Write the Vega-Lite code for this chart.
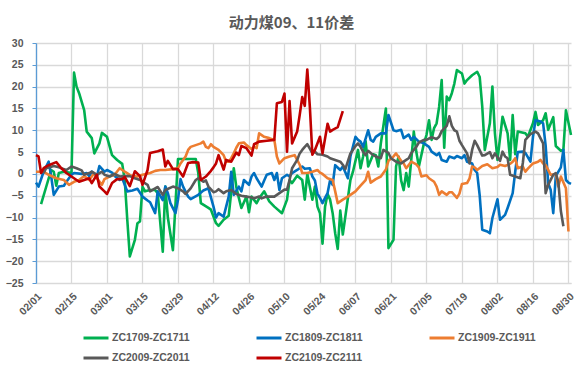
{
"$schema": "https://vega.github.io/schema/vega-lite/v6.json",
"width": 535, "height": 240,
"autosize": {"type": "none"},
"padding": {"left": 36, "top": 43, "right": 7, "bottom": 88},
"background": "white",
"config": {"view": {"stroke": null}},
"title": {"text": "动力煤09、11价差", "fontSize": 15, "font": "Noto Sans CJK SC", "fontWeight": "bold", "color": "#595959", "anchor": "middle", "offset": 7, "dx": -12},
"datasets": {
"ZC1709-ZC1711": [
{"d":"2021-02-03","v":-6.9},{"d":"2021-02-05","v":-3},{"d":"2021-02-07","v":0.9},{"d":"2021-02-08","v":0.5},{"d":"2021-02-09","v":-2.7},{"d":"2021-02-10","v":0.2},{"d":"2021-02-12","v":0.5},{"d":"2021-02-14","v":0.3},{"d":"2021-02-15","v":0.2},{"d":"2021-02-16","v":23.2},{"d":"2021-02-17","v":20},{"d":"2021-02-18","v":18.5},{"d":"2021-02-20","v":14.6},{"d":"2021-02-21","v":9.7},{"d":"2021-02-23","v":8.2},{"d":"2021-02-24","v":4.7},{"d":"2021-02-26","v":7},{"d":"2021-02-27","v":9.4},{"d":"2021-03-01","v":8.5},{"d":"2021-03-03","v":4.3},{"d":"2021-03-05","v":3.2},{"d":"2021-03-07","v":2.3},{"d":"2021-03-08","v":-1.4},{"d":"2021-03-09","v":-10.5},{"d":"2021-03-10","v":-18.9},{"d":"2021-03-12","v":-15.1},{"d":"2021-03-13","v":-11.3},{"d":"2021-03-14","v":-10.9},{"d":"2021-03-15","v":-2.9},{"d":"2021-03-16","v":-4},{"d":"2021-03-18","v":-3.7},{"d":"2021-03-20","v":-3.7},{"d":"2021-03-21","v":-4.4},{"d":"2021-03-23","v":-17.8},{"d":"2021-03-24","v":-2.9},{"d":"2021-03-25","v":-10},{"d":"2021-03-27","v":-17.5},{"d":"2021-03-29","v":3.4},{"d":"2021-04-01","v":3.4},{"d":"2021-04-05","v":3.4},{"d":"2021-04-06","v":0.2},{"d":"2021-04-07","v":-6.7},{"d":"2021-04-10","v":-7.8},{"d":"2021-04-11","v":-8.2},{"d":"2021-04-13","v":-11.3},{"d":"2021-04-14","v":-11.9},{"d":"2021-04-16","v":-10.5},{"d":"2021-04-18","v":-9.6},{"d":"2021-04-20","v":1.3},{"d":"2021-04-21","v":-3},{"d":"2021-04-22","v":-5.5},{"d":"2021-04-23","v":-7.8},{"d":"2021-04-25","v":-5.2},{"d":"2021-04-26","v":-8.8},{"d":"2021-04-27","v":-5.2},{"d":"2021-04-29","v":-6.7},{"d":"2021-04-30","v":-5.6},{"d":"2021-05-02","v":-4},{"d":"2021-05-04","v":-6.3},{"d":"2021-05-06","v":-7.5},{"d":"2021-05-09","v":-9},{"d":"2021-05-11","v":-5.9},{"d":"2021-05-12","v":-1.4},{"d":"2021-05-13","v":-2.1},{"d":"2021-05-15","v":-0.4},{"d":"2021-05-17","v":-1.4},{"d":"2021-05-18","v":-5.9},{"d":"2021-05-19","v":0},{"d":"2021-05-21","v":-5.9},{"d":"2021-05-22","v":-2.9},{"d":"2021-05-23","v":-7.5},{"d":"2021-05-24","v":-9},{"d":"2021-05-25","v":-16},{"d":"2021-05-26","v":-7.5},{"d":"2021-05-27","v":-4.6},{"d":"2021-05-28","v":-5.9},{"d":"2021-05-29","v":-9},{"d":"2021-05-30","v":-13.6},{"d":"2021-05-31","v":-17.2},{"d":"2021-06-01","v":-8.4},{"d":"2021-06-02","v":-13.9},{"d":"2021-06-03","v":-9.8},{"d":"2021-06-05","v":-1.4},{"d":"2021-06-06","v":0.5},{"d":"2021-06-08","v":5.5},{"d":"2021-06-09","v":1.3},{"d":"2021-06-10","v":4},{"d":"2021-06-11","v":7.5},{"d":"2021-06-12","v":1.7},{"d":"2021-06-14","v":4.5},{"d":"2021-06-15","v":4.3},{"d":"2021-06-16","v":1.7},{"d":"2021-06-17","v":7},{"d":"2021-06-19","v":15},{"d":"2021-06-20","v":-17},{"d":"2021-06-22","v":-15.1},{"d":"2021-06-23","v":1.7},{"d":"2021-06-24","v":4},{"d":"2021-06-25","v":-1.5},{"d":"2021-06-26","v":-3.7},{"d":"2021-06-27","v":0.2},{"d":"2021-06-28","v":-2.9},{"d":"2021-06-29","v":3.2},{"d":"2021-06-30","v":9.7},{"d":"2021-07-01","v":5},{"d":"2021-07-02","v":1.7},{"d":"2021-07-04","v":7},{"d":"2021-07-05","v":8.9},{"d":"2021-07-06","v":12.3},{"d":"2021-07-07","v":7.8},{"d":"2021-07-08","v":10.5},{"d":"2021-07-09","v":11.6},{"d":"2021-07-10","v":15.4},{"d":"2021-07-11","v":21.5},{"d":"2021-07-12","v":6},{"d":"2021-07-13","v":17.7},{"d":"2021-07-14","v":16.9},{"d":"2021-07-15","v":18.5},{"d":"2021-07-16","v":20.7},{"d":"2021-07-17","v":23.8},{"d":"2021-07-19","v":23},{"d":"2021-07-20","v":20.7},{"d":"2021-07-21","v":21.5},{"d":"2021-07-23","v":22.6},{"d":"2021-07-25","v":23.4},{"d":"2021-07-26","v":22.2},{"d":"2021-07-27","v":15.4},{"d":"2021-07-28","v":5.5},{"d":"2021-07-30","v":11.6},{"d":"2021-07-31","v":20},{"d":"2021-08-01","v":9.3},{"d":"2021-08-02","v":3.2},{"d":"2021-08-04","v":13.1},{"d":"2021-08-06","v":9.3},{"d":"2021-08-07","v":3.2},{"d":"2021-08-08","v":13.5},{"d":"2021-08-09","v":4.5},{"d":"2021-08-10","v":9.7},{"d":"2021-08-13","v":9.3},{"d":"2021-08-14","v":8.5},{"d":"2021-08-16","v":11.6},{"d":"2021-08-17","v":14.2},{"d":"2021-08-18","v":11.2},{"d":"2021-08-20","v":12.3},{"d":"2021-08-21","v":13.9},{"d":"2021-08-22","v":10.1},{"d":"2021-08-24","v":13},{"d":"2021-08-25","v":6.4},{"d":"2021-08-27","v":5.3},{"d":"2021-08-28","v":5.5},{"d":"2021-08-29","v":14.6},{"d":"2021-08-31","v":8.9}
],
"ZC1809-ZC1811": [
{"d":"2021-02-01","v":-2},{"d":"2021-02-02","v":-2.9},{"d":"2021-02-04","v":0.5},{"d":"2021-02-06","v":2.8},{"d":"2021-02-07","v":-0.6},{"d":"2021-02-08","v":-4.8},{"d":"2021-02-10","v":-2.9},{"d":"2021-02-12","v":-2.7},{"d":"2021-02-13","v":-1.8},{"d":"2021-02-15","v":-0.2},{"d":"2021-02-16","v":0.2},{"d":"2021-02-19","v":0},{"d":"2021-02-21","v":0.2},{"d":"2021-02-22","v":-0.5},{"d":"2021-02-23","v":0.5},{"d":"2021-02-25","v":-0.6},{"d":"2021-02-26","v":1.8},{"d":"2021-02-28","v":0.5},{"d":"2021-03-01","v":0.9},{"d":"2021-03-03","v":0.3},{"d":"2021-03-04","v":-0.5},{"d":"2021-03-06","v":-1.4},{"d":"2021-03-07","v":-1},{"d":"2021-03-09","v":-4},{"d":"2021-03-11","v":-3.8},{"d":"2021-03-13","v":-3.4},{"d":"2021-03-15","v":-5.2},{"d":"2021-03-17","v":-6.1},{"d":"2021-03-18","v":-6.5},{"d":"2021-03-20","v":-9},{"d":"2021-03-21","v":-4},{"d":"2021-03-23","v":-6},{"d":"2021-03-24","v":-2.9},{"d":"2021-03-25","v":-4.4},{"d":"2021-03-26","v":-6.7},{"d":"2021-03-28","v":-9},{"d":"2021-03-29","v":-5.9},{"d":"2021-03-30","v":-1.2},{"d":"2021-03-31","v":-2.9},{"d":"2021-04-02","v":-5.2},{"d":"2021-04-03","v":-5.8},{"d":"2021-04-06","v":-4.8},{"d":"2021-04-08","v":-3.8},{"d":"2021-04-10","v":-3.3},{"d":"2021-04-12","v":-7.5},{"d":"2021-04-13","v":-10},{"d":"2021-04-14","v":-9},{"d":"2021-04-16","v":-9.8},{"d":"2021-04-18","v":-5.2},{"d":"2021-04-19","v":0.5},{"d":"2021-04-20","v":-4.8},{"d":"2021-04-22","v":-2.9},{"d":"2021-04-23","v":-4},{"d":"2021-04-24","v":-1.4},{"d":"2021-04-26","v":-2.5},{"d":"2021-04-27","v":-0.6},{"d":"2021-04-28","v":0.2},{"d":"2021-04-29","v":-1},{"d":"2021-05-01","v":-2.9},{"d":"2021-05-02","v":-1.5},{"d":"2021-05-03","v":-0.2},{"d":"2021-05-05","v":0.2},{"d":"2021-05-06","v":-1.4},{"d":"2021-05-07","v":0.2},{"d":"2021-05-08","v":-3.7},{"d":"2021-05-09","v":-1},{"d":"2021-05-11","v":-0.2},{"d":"2021-05-12","v":-0.6},{"d":"2021-05-13","v":0.2},{"d":"2021-05-15","v":0.9},{"d":"2021-05-17","v":1.7},{"d":"2021-05-18","v":1.2},{"d":"2021-05-20","v":1.3},{"d":"2021-05-21","v":-0.6},{"d":"2021-05-22","v":-1.5},{"d":"2021-05-23","v":-4.5},{"d":"2021-05-24","v":-5.5},{"d":"2021-05-25","v":-6.7},{"d":"2021-05-26","v":-5.5},{"d":"2021-05-27","v":-4.4},{"d":"2021-05-28","v":-1.4},{"d":"2021-05-29","v":-2.5},{"d":"2021-05-30","v":2},{"d":"2021-06-01","v":0.9},{"d":"2021-06-02","v":1.7},{"d":"2021-06-04","v":-1},{"d":"2021-06-05","v":4},{"d":"2021-06-07","v":8.5},{"d":"2021-06-08","v":7.8},{"d":"2021-06-09","v":7.4},{"d":"2021-06-10","v":6.2},{"d":"2021-06-12","v":10},{"d":"2021-06-13","v":7.8},{"d":"2021-06-14","v":7.4},{"d":"2021-06-15","v":8.5},{"d":"2021-06-17","v":9.3},{"d":"2021-06-19","v":9.3},{"d":"2021-06-20","v":13.5},{"d":"2021-06-22","v":10},{"d":"2021-06-23","v":9.8},{"d":"2021-06-25","v":10.1},{"d":"2021-06-26","v":8.2},{"d":"2021-06-28","v":9},{"d":"2021-06-29","v":7.8},{"d":"2021-06-30","v":8.5},{"d":"2021-07-02","v":7.4},{"d":"2021-07-04","v":7},{"d":"2021-07-06","v":6.2},{"d":"2021-07-07","v":5.1},{"d":"2021-07-09","v":4.3},{"d":"2021-07-10","v":4.8},{"d":"2021-07-11","v":3.2},{"d":"2021-07-13","v":2.8},{"d":"2021-07-14","v":4},{"d":"2021-07-16","v":3.6},{"d":"2021-07-17","v":4.1},{"d":"2021-07-19","v":3.6},{"d":"2021-07-20","v":4.3},{"d":"2021-07-21","v":2.8},{"d":"2021-07-23","v":2.4},{"d":"2021-07-24","v":0.9},{"d":"2021-07-25","v":0.2},{"d":"2021-07-26","v":-5},{"d":"2021-07-27","v":-12.8},{"d":"2021-07-29","v":-13.2},{"d":"2021-07-30","v":-13.6},{"d":"2021-07-31","v":-10.1},{"d":"2021-08-02","v":-5.8},{"d":"2021-08-03","v":-10.5},{"d":"2021-08-05","v":-9.4},{"d":"2021-08-06","v":-7.8},{"d":"2021-08-08","v":-4.4},{"d":"2021-08-09","v":0.5},{"d":"2021-08-10","v":5},{"d":"2021-08-12","v":5.1},{"d":"2021-08-13","v":4.8},{"d":"2021-08-15","v":2.8},{"d":"2021-08-16","v":8.5},{"d":"2021-08-17","v":12.3},{"d":"2021-08-19","v":12},{"d":"2021-08-20","v":11.6},{"d":"2021-08-21","v":6.5},{"d":"2021-08-22","v":-2.1},{"d":"2021-08-23","v":-3.7},{"d":"2021-08-24","v":-9},{"d":"2021-08-25","v":-0.5},{"d":"2021-08-27","v":1.5},{"d":"2021-08-28","v":5.5},{"d":"2021-08-29","v":-1.4},{"d":"2021-08-30","v":-2},{"d":"2021-08-31","v":-2.3}
],
"ZC1909-ZC1911": [
{"d":"2021-02-01","v":0.5},{"d":"2021-02-04","v":0.5},{"d":"2021-02-06","v":-0.2},{"d":"2021-02-09","v":-1},{"d":"2021-02-12","v":-1.4},{"d":"2021-02-14","v":-2.5},{"d":"2021-02-16","v":-1.8},{"d":"2021-02-18","v":-1.4},{"d":"2021-02-20","v":-0.5},{"d":"2021-02-22","v":-1.4},{"d":"2021-02-24","v":0.2},{"d":"2021-02-25","v":-1},{"d":"2021-02-27","v":-2.5},{"d":"2021-02-28","v":-1.2},{"d":"2021-03-02","v":-0.6},{"d":"2021-03-04","v":-0.2},{"d":"2021-03-06","v":1.3},{"d":"2021-03-08","v":0.5},{"d":"2021-03-10","v":-0.2},{"d":"2021-03-11","v":-0.5},{"d":"2021-03-13","v":-0.6},{"d":"2021-03-15","v":-0.2},{"d":"2021-03-18","v":0.2},{"d":"2021-03-20","v":0.7},{"d":"2021-03-22","v":0.9},{"d":"2021-03-24","v":0.9},{"d":"2021-03-27","v":1.1},{"d":"2021-03-29","v":1.3},{"d":"2021-03-30","v":2.4},{"d":"2021-04-01","v":4},{"d":"2021-04-02","v":5.5},{"d":"2021-04-03","v":6.2},{"d":"2021-04-05","v":6.6},{"d":"2021-04-07","v":7},{"d":"2021-04-08","v":7.4},{"d":"2021-04-09","v":6.2},{"d":"2021-04-10","v":5.9},{"d":"2021-04-11","v":6.8},{"d":"2021-04-12","v":6.2},{"d":"2021-04-14","v":5.5},{"d":"2021-04-16","v":4.3},{"d":"2021-04-17","v":2.8},{"d":"2021-04-18","v":2.8},{"d":"2021-04-19","v":3.6},{"d":"2021-04-20","v":4.7},{"d":"2021-04-21","v":6},{"d":"2021-04-22","v":7},{"d":"2021-04-24","v":7.2},{"d":"2021-04-25","v":6.6},{"d":"2021-04-27","v":5.7},{"d":"2021-04-28","v":6.2},{"d":"2021-04-29","v":5.9},{"d":"2021-04-30","v":9.3},{"d":"2021-05-02","v":8.5},{"d":"2021-05-04","v":8.2},{"d":"2021-05-06","v":7.8},{"d":"2021-05-07","v":4},{"d":"2021-05-08","v":2.4},{"d":"2021-05-10","v":3.6},{"d":"2021-05-12","v":4},{"d":"2021-05-14","v":4.3},{"d":"2021-05-15","v":3.2},{"d":"2021-05-16","v":2.1},{"d":"2021-05-17","v":0.2},{"d":"2021-05-19","v":0.2},{"d":"2021-05-21","v":0.5},{"d":"2021-05-23","v":0.9},{"d":"2021-05-24","v":0.3},{"d":"2021-05-25","v":0},{"d":"2021-05-27","v":-1},{"d":"2021-05-29","v":-1.4},{"d":"2021-05-30","v":-4},{"d":"2021-05-31","v":-6.7},{"d":"2021-06-02","v":-5.9},{"d":"2021-06-04","v":-5.2},{"d":"2021-06-05","v":-4.8},{"d":"2021-06-07","v":-4},{"d":"2021-06-09","v":-2.7},{"d":"2021-06-11","v":-1.4},{"d":"2021-06-12","v":0.5},{"d":"2021-06-13","v":-2},{"d":"2021-06-15","v":-1.2},{"d":"2021-06-17","v":-0.6},{"d":"2021-06-19","v":1},{"d":"2021-06-20","v":3},{"d":"2021-06-22","v":4},{"d":"2021-06-23","v":4.7},{"d":"2021-06-25","v":3},{"d":"2021-06-26","v":2.4},{"d":"2021-06-27","v":1.3},{"d":"2021-06-29","v":2.8},{"d":"2021-07-01","v":2.2},{"d":"2021-07-02","v":1.5},{"d":"2021-07-03","v":-0.6},{"d":"2021-07-05","v":-0.3},{"d":"2021-07-06","v":-1},{"d":"2021-07-08","v":-1.8},{"d":"2021-07-09","v":-2.9},{"d":"2021-07-10","v":-4.8},{"d":"2021-07-11","v":-4},{"d":"2021-07-13","v":-4.8},{"d":"2021-07-14","v":-4.2},{"d":"2021-07-15","v":-4.2},{"d":"2021-07-17","v":-5.5},{"d":"2021-07-18","v":-4.5},{"d":"2021-07-19","v":-2.3},{"d":"2021-07-21","v":-2.1},{"d":"2021-07-22","v":-1},{"d":"2021-07-23","v":1.7},{"d":"2021-07-24","v":1.5},{"d":"2021-07-25","v":0.9},{"d":"2021-07-27","v":1.8},{"d":"2021-07-29","v":2.2},{"d":"2021-07-31","v":1.3},{"d":"2021-08-02","v":1.6},{"d":"2021-08-03","v":2.1},{"d":"2021-08-05","v":1.8},{"d":"2021-08-07","v":2.3},{"d":"2021-08-08","v":2.8},{"d":"2021-08-09","v":3.6},{"d":"2021-08-10","v":1.3},{"d":"2021-08-12","v":1.7},{"d":"2021-08-13","v":0.5},{"d":"2021-08-14","v":1.2},{"d":"2021-08-16","v":2.4},{"d":"2021-08-18","v":2.8},{"d":"2021-08-19","v":3.2},{"d":"2021-08-20","v":2.4},{"d":"2021-08-21","v":2},{"d":"2021-08-22","v":0.9},{"d":"2021-08-23","v":-0.2},{"d":"2021-08-25","v":0},{"d":"2021-08-26","v":-2.9},{"d":"2021-08-27","v":-0.6},{"d":"2021-08-29","v":-3.3},{"d":"2021-08-30","v":-13.2}
],
"ZC2009-ZC2011": [
{"d":"2021-02-04","v":0.2},{"d":"2021-02-05","v":1.3},{"d":"2021-02-08","v":1.8},{"d":"2021-02-10","v":1.5},{"d":"2021-02-13","v":0.9},{"d":"2021-02-15","v":1.7},{"d":"2021-02-17","v":1.3},{"d":"2021-02-19","v":0.8},{"d":"2021-02-20","v":-0.2},{"d":"2021-02-22","v":0.2},{"d":"2021-02-23","v":0.5},{"d":"2021-02-25","v":-0.2},{"d":"2021-02-27","v":0.5},{"d":"2021-02-28","v":-0.2},{"d":"2021-03-02","v":-0.6},{"d":"2021-03-04","v":0},{"d":"2021-03-06","v":-0.6},{"d":"2021-03-08","v":-0.5},{"d":"2021-03-10","v":-0.5},{"d":"2021-03-12","v":-1},{"d":"2021-03-14","v":-1.4},{"d":"2021-03-17","v":-2.5},{"d":"2021-03-18","v":-4},{"d":"2021-03-20","v":-3.3},{"d":"2021-03-21","v":-3},{"d":"2021-03-23","v":-4.8},{"d":"2021-03-24","v":-3.7},{"d":"2021-03-27","v":-2.9},{"d":"2021-03-29","v":-3.3},{"d":"2021-03-31","v":-4},{"d":"2021-04-01","v":-4.6},{"d":"2021-04-03","v":-3.3},{"d":"2021-04-05","v":-1.4},{"d":"2021-04-06","v":-1},{"d":"2021-04-08","v":-1.8},{"d":"2021-04-09","v":-1.5},{"d":"2021-04-10","v":-2.9},{"d":"2021-04-12","v":-4.2},{"d":"2021-04-13","v":-4},{"d":"2021-04-14","v":-3.5},{"d":"2021-04-16","v":-4.4},{"d":"2021-04-17","v":-4},{"d":"2021-04-19","v":-3.7},{"d":"2021-04-21","v":-4.6},{"d":"2021-04-23","v":-5},{"d":"2021-04-25","v":-5.2},{"d":"2021-04-27","v":-5.4},{"d":"2021-04-28","v":-5.6},{"d":"2021-04-30","v":-5.2},{"d":"2021-05-01","v":-5.6},{"d":"2021-05-03","v":-5.2},{"d":"2021-05-05","v":-5.2},{"d":"2021-05-06","v":-5.2},{"d":"2021-05-08","v":-4.4},{"d":"2021-05-09","v":-4},{"d":"2021-05-10","v":-3.6},{"d":"2021-05-11","v":-3.6},{"d":"2021-05-12","v":-1.4},{"d":"2021-05-13","v":1.3},{"d":"2021-05-15","v":3.2},{"d":"2021-05-16","v":4.7},{"d":"2021-05-17","v":5.5},{"d":"2021-05-18","v":6.2},{"d":"2021-05-19","v":6.8},{"d":"2021-05-20","v":5.8},{"d":"2021-05-21","v":4.7},{"d":"2021-05-22","v":5.1},{"d":"2021-05-23","v":4.5},{"d":"2021-05-25","v":4.4},{"d":"2021-05-27","v":4},{"d":"2021-05-28","v":3.6},{"d":"2021-05-30","v":3.2},{"d":"2021-06-01","v":2.8},{"d":"2021-06-02","v":2.1},{"d":"2021-06-03","v":1.1},{"d":"2021-06-05","v":4.7},{"d":"2021-06-06","v":5.5},{"d":"2021-06-07","v":6.4},{"d":"2021-06-08","v":7},{"d":"2021-06-09","v":6.2},{"d":"2021-06-10","v":5.1},{"d":"2021-06-11","v":4.3},{"d":"2021-06-12","v":5.3},{"d":"2021-06-14","v":4.3},{"d":"2021-06-15","v":4},{"d":"2021-06-17","v":3.6},{"d":"2021-06-18","v":5.5},{"d":"2021-06-20","v":4.8},{"d":"2021-06-21","v":3.6},{"d":"2021-06-23","v":2.8},{"d":"2021-06-25","v":2.4},{"d":"2021-06-27","v":3.2},{"d":"2021-06-28","v":3.6},{"d":"2021-06-29","v":4.8},{"d":"2021-06-30","v":5.5},{"d":"2021-07-01","v":6.2},{"d":"2021-07-02","v":7.2},{"d":"2021-07-04","v":7.8},{"d":"2021-07-05","v":7.8},{"d":"2021-07-07","v":8.4},{"d":"2021-07-09","v":8},{"d":"2021-07-10","v":8.5},{"d":"2021-07-11","v":9.8},{"d":"2021-07-13","v":11},{"d":"2021-07-14","v":13.2},{"d":"2021-07-15","v":11},{"d":"2021-07-16","v":10},{"d":"2021-07-17","v":9.7},{"d":"2021-07-18","v":7.6},{"d":"2021-07-19","v":6.6},{"d":"2021-07-21","v":4.7},{"d":"2021-07-22","v":2.4},{"d":"2021-07-23","v":5.5},{"d":"2021-07-24","v":7.6},{"d":"2021-07-25","v":6.6},{"d":"2021-07-27","v":4.2},{"d":"2021-07-28","v":4.3},{"d":"2021-07-30","v":5},{"d":"2021-07-31","v":3.6},{"d":"2021-08-01","v":4.7},{"d":"2021-08-03","v":3},{"d":"2021-08-04","v":5.1},{"d":"2021-08-05","v":4},{"d":"2021-08-06","v":3.6},{"d":"2021-08-07","v":-0.2},{"d":"2021-08-09","v":-0.6},{"d":"2021-08-11","v":-1},{"d":"2021-08-12","v":2.5},{"d":"2021-08-13","v":7.8},{"d":"2021-08-15","v":9.1},{"d":"2021-08-17","v":9.7},{"d":"2021-08-18","v":9.3},{"d":"2021-08-20","v":7},{"d":"2021-08-21","v":-4.4},{"d":"2021-08-22","v":-2.5},{"d":"2021-08-24","v":-0.2},{"d":"2021-08-25","v":0.2},{"d":"2021-08-26","v":-1.8},{"d":"2021-08-27","v":-8.5},{"d":"2021-08-28","v":-12}
],
"ZC2109-ZC2111": [
{"d":"2021-02-01","v":4.3},{"d":"2021-02-02","v":4},{"d":"2021-02-03","v":0.2},{"d":"2021-02-04","v":1.3},{"d":"2021-02-06","v":2},{"d":"2021-02-09","v":2.7},{"d":"2021-02-11","v":1.3},{"d":"2021-02-13","v":0.2},{"d":"2021-02-16","v":-1},{"d":"2021-02-18","v":-1.8},{"d":"2021-02-20","v":-1.4},{"d":"2021-02-22","v":-1},{"d":"2021-02-23","v":-2.1},{"d":"2021-02-25","v":-0.2},{"d":"2021-02-26","v":-2.9},{"d":"2021-02-28","v":-4},{"d":"2021-03-01","v":-4.6},{"d":"2021-03-03","v":-2.1},{"d":"2021-03-05","v":-1.2},{"d":"2021-03-07","v":-1.2},{"d":"2021-03-08","v":-0.7},{"d":"2021-03-10","v":-2.8},{"d":"2021-03-12","v":0.6},{"d":"2021-03-14","v":-0.5},{"d":"2021-03-15","v":-2.5},{"d":"2021-03-17","v":0.9},{"d":"2021-03-18","v":4.8},{"d":"2021-03-21","v":5.2},{"d":"2021-03-23","v":5.6},{"d":"2021-03-24","v":1.7},{"d":"2021-03-25","v":3},{"d":"2021-03-27","v":1.1},{"d":"2021-03-29","v":1.1},{"d":"2021-03-31","v":-0.6},{"d":"2021-04-02","v":2.5},{"d":"2021-04-04","v":2.7},{"d":"2021-04-06","v":2.6},{"d":"2021-04-07","v":-1.4},{"d":"2021-04-09","v":-0.6},{"d":"2021-04-11","v":0.7},{"d":"2021-04-12","v":1.5},{"d":"2021-04-13","v":2.4},{"d":"2021-04-14","v":4.3},{"d":"2021-04-16","v":1},{"d":"2021-04-17","v":3.2},{"d":"2021-04-19","v":2.8},{"d":"2021-04-21","v":4.9},{"d":"2021-04-22","v":4.3},{"d":"2021-04-23","v":6.4},{"d":"2021-04-25","v":5.9},{"d":"2021-04-27","v":4.2},{"d":"2021-04-28","v":6.8},{"d":"2021-04-30","v":7.4},{"d":"2021-05-03","v":7.6},{"d":"2021-05-06","v":7.8},{"d":"2021-05-07","v":16.2},{"d":"2021-05-09","v":16.5},{"d":"2021-05-10","v":18.4},{"d":"2021-05-11","v":5.1},{"d":"2021-05-12","v":16.7},{"d":"2021-05-13","v":7},{"d":"2021-05-15","v":9.7},{"d":"2021-05-16","v":13.5},{"d":"2021-05-17","v":17.6},{"d":"2021-05-18","v":15.6},{"d":"2021-05-19","v":23.9},{"d":"2021-05-20","v":15.4},{"d":"2021-05-21","v":4.4},{"d":"2021-05-22","v":5.5},{"d":"2021-05-24","v":8.5},{"d":"2021-05-25","v":4.7},{"d":"2021-05-27","v":11.5},{"d":"2021-05-28","v":9.7},{"d":"2021-05-29","v":10.1},{"d":"2021-05-31","v":10.7},{"d":"2021-06-02","v":14.4}
]
},
"encoding": {
  "x": {"field": "d", "type": "temporal",
    "scale": {"type": "utc", "domain": [{"year": 2021, "month": 2, "date": 1, "utc": true}, {"year": 2021, "month": 8, "date": 31, "utc": true}]},
    "axis": {"title": null, "format": "%m/%d", "labelAngle": -45,
      "values": [
        {"year": 2021, "month": 2, "date": 1, "utc": true},
        {"year": 2021, "month": 2, "date": 15, "utc": true},
        {"year": 2021, "month": 3, "date": 1, "utc": true},
        {"year": 2021, "month": 3, "date": 15, "utc": true},
        {"year": 2021, "month": 3, "date": 29, "utc": true},
        {"year": 2021, "month": 4, "date": 12, "utc": true},
        {"year": 2021, "month": 4, "date": 26, "utc": true},
        {"year": 2021, "month": 5, "date": 10, "utc": true},
        {"year": 2021, "month": 5, "date": 24, "utc": true},
        {"year": 2021, "month": 6, "date": 7, "utc": true},
        {"year": 2021, "month": 6, "date": 21, "utc": true},
        {"year": 2021, "month": 7, "date": 5, "utc": true},
        {"year": 2021, "month": 7, "date": 19, "utc": true},
        {"year": 2021, "month": 8, "date": 2, "utc": true},
        {"year": 2021, "month": 8, "date": 16, "utc": true},
        {"year": 2021, "month": 8, "date": 30, "utc": true}
      ],
      "grid": true, "gridColor": "#d9d9d9", "gridWidth": 1.3,
      "domainColor": "#d9d9d9", "ticks": false, "labelPadding": 8,
      "labelFont": "Liberation Sans", "labelFontSize": 10.5, "labelFontWeight": "bold", "labelColor": "#595959"}},
  "y": {"field": "v", "type": "quantitative",
    "scale": {"domain": [-25, 30], "nice": false, "zero": false},
    "axis": {"title": null, "values": [-25, -20, -15, -10, -5, 0, 5, 10, 15, 20, 25, 30],
      "grid": true, "gridColor": "#d9d9d9", "gridWidth": 1.3,
      "domainColor": "#5b9bd5", "domainWidth": 1.3, "tickColor": "#5b9bd5", "tickSize": 4, "labelPadding": 9,
      "labelFont": "Liberation Sans", "labelFontSize": 10.5, "labelFontWeight": "bold", "labelColor": "#595959"}},
  "color": {"type": "nominal",
    "scale": {"domain": ["ZC1709-ZC1711", "ZC1809-ZC1811", "ZC1909-ZC1911", "ZC2009-ZC2011", "ZC2109-ZC2111"],
              "range": ["#00b050", "#0070c0", "#ed7d31", "#595959", "#c00000"]},
    "legend": {"title": null, "orient": "none", "direction": "horizontal", "legendX": 46, "legendY": 281, "columns": 3, "columnPadding": 60, "rowPadding": -5, "padding": 0,
      "symbolType": "stroke", "symbolSize": 625, "symbolStrokeWidth": 3, "labelOffset": 2,
      "labelFont": "Liberation Sans", "labelFontSize": 10.5, "labelFontWeight": "bold", "labelColor": "#595959"}}
},
"layer": [
  {"data": {"name": "ZC1709-ZC1711"}, "mark": {"type": "line", "strokeWidth": 2.6, "strokeJoin": "round"}, "encoding": {"color": {"datum": "ZC1709-ZC1711"}}},
  {"data": {"name": "ZC1809-ZC1811"}, "mark": {"type": "line", "strokeWidth": 2.6, "strokeJoin": "round"}, "encoding": {"color": {"datum": "ZC1809-ZC1811"}}},
  {"data": {"name": "ZC1909-ZC1911"}, "mark": {"type": "line", "strokeWidth": 2.6, "strokeJoin": "round"}, "encoding": {"color": {"datum": "ZC1909-ZC1911"}}},
  {"data": {"name": "ZC2009-ZC2011"}, "mark": {"type": "line", "strokeWidth": 2.6, "strokeJoin": "round"}, "encoding": {"color": {"datum": "ZC2009-ZC2011"}}},
  {"data": {"name": "ZC2109-ZC2111"}, "mark": {"type": "line", "strokeWidth": 2.6, "strokeJoin": "round"}, "encoding": {"color": {"datum": "ZC2109-ZC2111"}}}
]
}
